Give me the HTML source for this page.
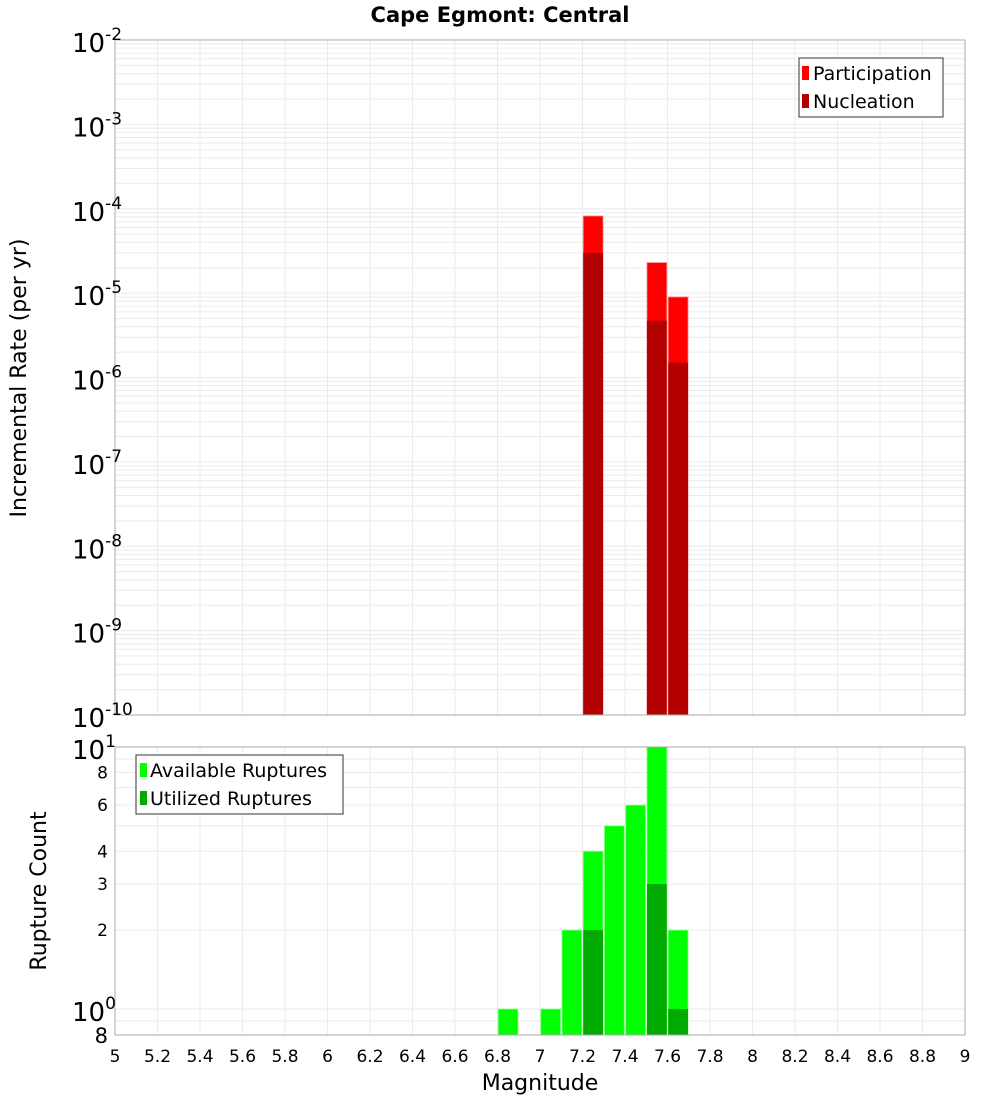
<!DOCTYPE html>
<html><head><meta charset="utf-8"><style>
body{margin:0;background:#fff;font-family:"Liberation Sans","DejaVu Sans",sans-serif}
svg text{font-family:"DejaVu Sans","Liberation Sans",sans-serif}
</style></head><body>
<svg id="c" width="1000" height="1100" xmlns="http://www.w3.org/2000/svg">
<text x="500" y="22" text-anchor="middle" font-size="21" font-weight="bold">Cape Egmont: Central</text>
<g id="top"></g><g id="bot"></g>
<text transform="translate(26,378) rotate(-90)" text-anchor="middle" font-size="22">Incremental Rate (per yr)</text>
<text transform="translate(46,891) rotate(-90)" text-anchor="middle" font-size="22">Rupture Count</text>
<text x="540" y="1090" text-anchor="middle" font-size="22">Magnitude</text>
<g>
<rect x="799" y="58" width="144" height="59" fill="#fff" stroke="#333"/>
<rect x="802" y="66" width="7" height="14" fill="#ff0000"/><text x="813" y="80" font-size="19">Participation</text>
<rect x="802" y="94" width="7" height="14" fill="#b30000"/><text x="813" y="108" font-size="19">Nucleation</text>
</g>
<g>
<rect x="136" y="755" width="207" height="59" fill="#fff" stroke="#333"/>
<rect x="140" y="763" width="7" height="14" fill="#00ff00"/><text x="150" y="777" font-size="19">Available Ruptures</text>
<rect x="140" y="791" width="7" height="14" fill="#00aa00"/><text x="150" y="805" font-size="19">Utilized Ruptures</text>
</g>
</svg>
<script>
const mags=[7.25,7.55,7.65];
const participation=[8.2e-5,2.3e-5,9e-6];
const nucleation=[3.0e-5,4.7e-6,1.5e-6];
const cMags=[6.85,7.05,7.15,7.25,7.35,7.45,7.55,7.65];
const available=[1,1,2,4,5,6,10,2];
const uMags=[7.25,7.55,7.65];
const utilized=[2,3,1];
const xTicks=[5,5.2,5.4,5.6,5.8,6,6.2,6.4,6.6,6.8,7,7.2,7.4,7.6,7.8,8,8.2,8.4,8.6,8.8,9];
const topExps=[-2,-3,-4,-5,-6,-7,-8,-9,-10];
const botTicks=[8,6,4,3,2];
const NS="http://www.w3.org/2000/svg";
const L=115,R=965,T1=40,B1=715,T2=747,B2=1035;
const x=m=>L+(m-5)/4*(R-L);
const y1=v=>T1+(-2-Math.log10(v))/8*(B1-T1);
const lmin=Math.log10(0.796);
const y2=v=>B2-(Math.log10(v)-lmin)/(1-lmin)*(B2-T2);
function mk(p,t,a){const e=document.createElementNS(NS,t);for(const k in a)e.setAttribute(k,a[k]);p.appendChild(e);return e;}
const gTop=document.getElementById('top'),gBot=document.getElementById('bot'),svg=document.getElementById('c');
for(let d=-10;d<-2;d++)for(let k=1;k<10;k++){const v=k*Math.pow(10,d);const yy=y1(v);
 const g=mk(gTop,'line',{x1:L,x2:R,y1:yy,y2:yy,stroke:'#ebebeb','stroke-width':1});
 
 }
for(let k=1;k<=10;k++){const yy=y2(k);const g=mk(gBot,'line',{x1:L,x2:R,y1:yy,y2:yy,stroke:'#ebebeb'});
 
 }
{const yy=y2(0.9);mk(gBot,'line',{x1:L,x2:R,y1:yy,y2:yy,stroke:'#ebebeb'});}
xTicks.forEach(m=>{[[gTop,T1,B1],[gBot,T2,B2]].forEach(([g,a,b])=>{const l=mk(g,'line',{x1:x(m),x2:x(m),y1:a,y2:b,stroke:'#ebebeb'});
 
 });
 const t=mk(svg,'text',{x:x(m),y:1062,'text-anchor':'middle','font-size':17});t.textContent=String(m);
 
 });
const bw=(x(5.1)-x(5))-1.5;
mags.forEach((m,i)=>{const r=mk(gTop,'rect',{x:x(m)-bw/2,y:y1(participation[i]),width:bw,height:B1-y1(participation[i]),fill:'#ff0000',stroke:'#ff8080','stroke-width':0.8});
 
 });
mags.forEach((m,i)=>{const r=mk(gTop,'rect',{x:x(m)-bw/2,y:y1(nucleation[i]),width:bw,height:B1-y1(nucleation[i]),fill:'#b30000'});
 
 });
cMags.forEach((m,i)=>{const r=mk(gBot,'rect',{x:x(m)-bw/2,y:y2(available[i]),width:bw,height:B2-y2(available[i]),fill:'#00ff00',stroke:'#80ff80','stroke-width':0.8});
 
 });
uMags.forEach((m,i)=>{const r=mk(gBot,'rect',{x:x(m)-bw/2,y:y2(utilized[i]),width:bw,height:B2-y2(utilized[i]),fill:'#00aa00'});
 
 });
mk(gTop,'rect',{x:L,y:T1,width:R-L,height:B1-T1,fill:'none',stroke:'#aaa'});
mk(gBot,'rect',{x:L,y:T2,width:R-L,height:B2-T2,fill:'none',stroke:'#aaa'});
topExps.forEach(e=>{const yy=y1(Math.pow(10,e));const t=mk(svg,'text',{x:72,y:yy+12,'font-size':26});
 
 
 t.innerHTML='10<tspan dy="-12" font-size="17">'+e+'</tspan>';});
[[10,'1'],[1,'0']].forEach(([v,e])=>{const yy=y2(v);const t=mk(svg,'text',{x:72,y:yy+12,'font-size':26});
 
 
 t.innerHTML='10<tspan dy="-12" font-size="17">'+e+'</tspan>';});
botTicks.forEach(v=>{const t=mk(svg,'text',{x:108,y:y2(v)+6,'text-anchor':'end','font-size':17});t.textContent=v;
 
 });
{const t=mk(svg,'text',{x:108,y:1043,'text-anchor':'end','font-size':21});t.textContent='8';
 
 }
</script>
</body></html>
